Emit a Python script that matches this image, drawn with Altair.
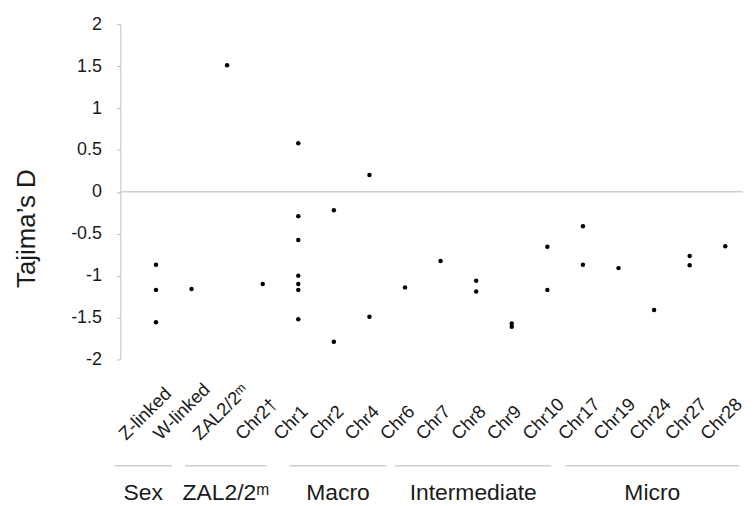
import altair as alt
import pandas as pd

# ---- data ----
categories = ["Z-linked", "W-linked", "ZAL2/2ᵐ", "Chr2†", "Chr1", "Chr2", "Chr4",
              "Chr6", "Chr7", "Chr8", "Chr9", "Chr10",
              "Chr17", "Chr19", "Chr24", "Chr27", "Chr28"]
tajima_values = [
    [-0.87, -1.17, -1.555],
    [-1.16],
    [1.51],
    [-1.10],
    [0.58, -0.29, -0.575, -1.00, -1.10, -1.17, -1.52],
    [-0.22, -1.79],
    [0.20, -1.49],
    [-1.14],
    [-0.825],
    [-1.06, -1.19],
    [-1.57, -1.61],
    [-0.655, -1.17],
    [-0.41, -0.87],
    [-0.91],
    [-1.41],
    [-0.765, -0.875],
    [-0.65],
]
group_names = ["Sex", "ZAL2/2ᵐ", "Macro", "Intermediate", "Micro"]
group_start = [-0.17, 1.82, 4.76, 7.72, 12.5]
group_end = [1.45, 4.11, 7.47, 12.11, 17.4]
y_ticks = [2, 1.5, 1, 0.5, 0, -0.5, -1, -1.5, -2]

rows = []
for i, (cat, vals) in enumerate(zip(categories, tajima_values)):
    for v in vals:
        rows.append({"pos": i + 1, "category": cat, "D": v})
points_df = pd.DataFrame(rows)
labels_df = pd.DataFrame({"pos": list(range(1, len(categories) + 1)), "category": categories})
groups_df = pd.DataFrame({"group": group_names, "start": group_start, "end": group_end})

FONT = "Liberation Sans"
TXT = "#1a1a1a"

x_scale = alt.Scale(domain=[0, 17.5], nice=False, zero=False)
y_scale = alt.Scale(domain=[-2, 2], nice=False, zero=False)

y_axis = alt.Axis(values=y_ticks, labelExpr="'' + datum.value",
                  labelFontSize=18, labelFont=FONT, labelColor=TXT,
                  labelPadding=15, tickSize=4, tickColor="#bdbdbd",
                  domainColor="#bdbdbd", grid=False,
                  title="Tajima’s D", titleFont=FONT, titleFontSize=26,
                  titleFontWeight="normal", titleColor=TXT,
                  titleAngle=270, titleAlign="center", titleBaseline="alphabetic",
                  titleX=-86, titleY=205)

points = alt.Chart(points_df).mark_circle(size=20, color="black", opacity=1).encode(
    x=alt.X("pos:Q", scale=x_scale, axis=None),
    y=alt.Y("D:Q", scale=y_scale, axis=y_axis),
)

zero = alt.Chart(pd.DataFrame({"y0": [0]})).mark_rule(color="#cfcfcf", strokeWidth=1.5).encode(
    y=alt.Y("y0:Q", scale=y_scale, axis=y_axis),
)

R = 0.7071  # dx/dy act in the rotated (-45 deg) frame


def tick_labels(test, shift):
    return alt.Chart(labels_df).transform_filter(test).mark_text(
        font=FONT, fontSize=18.5, color=TXT, angle=315, align="left",
        baseline="alphabetic", dx=shift * R, dy=shift * R,
    ).encode(
        x=alt.X("pos:Q", scale=x_scale, axis=None),
        y=alt.value(419),
        text="category:N",
    )


labels = [
    tick_labels("datum.pos == 1", -30),
    tick_labels("datum.pos == 2", -31),
    tick_labels("datum.pos == 3", -27),
    tick_labels("datum.pos == 4", -20),
    tick_labels("datum.pos >= 5", -17.5),
]

group_lines = alt.Chart(groups_df).mark_rule(color="#b5b5b5", strokeWidth=1).encode(
    x=alt.X("start:Q", scale=x_scale, axis=None),
    x2="end:Q",
    y=alt.value(444),
)

group_text = alt.Chart(groups_df).transform_calculate(
    mid="(datum.start + datum.end) / 2"
).mark_text(font=FONT, fontSize=23, color=TXT, align="center", baseline="alphabetic").encode(
    x=alt.X("mid:Q", scale=x_scale, axis=None),
    y=alt.value(478),
    text="group:N",
)

chart = alt.layer(zero, group_lines, group_text, *labels, points).properties(
    width=626, height=337,
    autosize=alt.AutoSizeParams(type="none"),
    padding={"left": 113, "top": 15, "right": 5, "bottom": 145},
).configure_view(stroke=None)

chart.save("out.html", embed_options={"renderer": "svg", "actions": False})
